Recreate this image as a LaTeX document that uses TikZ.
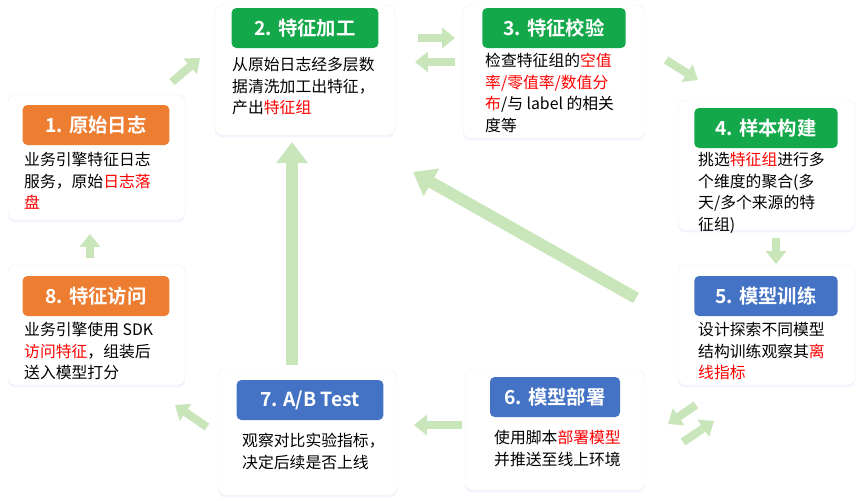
\documentclass[tikz,border=0pt]{standalone}
\usepackage{fontspec}
\setmainfont{Liberation Sans}
\newfontfamily\cjk{Noto Sans CJK SC}
\newfontfamily\cjkb{Noto Sans CJK SC Bold}
\usetikzlibrary{arrows.meta,shadows}
\definecolor{hdorange}{HTML}{ED7D31}
\definecolor{hdgreen}{HTML}{13A84A}
\definecolor{hdblue}{HTML}{4472C4}
\definecolor{flowgreen}{HTML}{C9E5BA}
\definecolor{hilite}{HTML}{FF0000}
\tikzset{
  x=0.03cm, y=-0.03cm,
  card/.style={draw=black!6,fill=white,rounded corners=6pt,
    drop shadow={shadow xshift=0pt,shadow yshift=-2pt,opacity=0.15,fill=blue!30}},
  header/.style={fill=#1,rounded corners=4pt,text=white,font=\cjkb\fontsize{16.5}{19}\selectfont,
    minimum height=1.2cm,inner sep=0pt},
  body/.style={anchor=north west,align=left,inner sep=0pt,
    font=\cjk\fontsize{13.5}{18.5}\selectfont},
  flow/.style={draw=flowgreen,line width=7pt,-{Triangle[length=11pt,width=17pt]}},
}
\newcommand{\hl}[1]{\textcolor{hilite}{#1}}
\begin{document}
\begin{tikzpicture}
  \useasboundingbox (0,0) rectangle (863,500);

  % cards
  \draw[card] (8,95) rectangle (185,220);
  \node[header=hdorange,minimum width=4.4cm] (h1) at (96,125) {1. 原始日志};
  \node[body] (b1) at (24,152) {业务引擎特征日志\\服务，原始\hl{日志落}\\\hl{盘}};

  \draw[card] (215,5) rectangle (395,135);
  \node[header=hdgreen,minimum width=4.4cm] (h2) at (305,28) {2. 特征加工};
  \node[body] (b2) at (232,57) {从原始日志经多层数\\据清洗加工出特征，\\产出\hl{特征组}};

  \draw[card] (463,5) rectangle (645,138);
  \node[header=hdgreen,minimum width=4.3cm] (h3) at (554,28) {3. 特征校验};
  \node[body] (b3) at (485,53) {检查特征组的\hl{空值}\\\hl{率/零值率/数值分}\\\hl{布}/与 label 的相关\\度等};

  \draw[card] (678,100) rectangle (855,230);
  \node[header=hdgreen,minimum width=4.3cm] (h4) at (766,128) {4. 样本构建};
  \node[body] (b4) at (698,152) {挑选\hl{特征组}进行多\\个维度的聚合(多\\天/多个来源的特\\征组)};

  \draw[card] (678,265) rectangle (855,385);
  \node[header=hdblue,minimum width=4.3cm] (h5) at (766,296) {5. 模型训练};
  \node[body] (b5) at (698,322) {设计探索不同模型\\结构训练观察其\hl{离}\\\hl{线指标}};

  \draw[card] (465,370) rectangle (645,490);
  \node[header=hdblue,minimum width=3.9cm] (h6) at (555,397) {6. 模型部署};
  \node[body] (b6) at (494,430) {使用脚本\hl{部署模型}\\并推送至线上环境};

  \draw[card] (218,370) rectangle (397,495);
  \node[header=hdblue,minimum width=4.4cm] (h7) at (310,400) {7. A/B Test};
  \node[body] (b7) at (242,433) {观察对比实验指标，\\决定后续是否上线};

  \draw[card] (8,265) rectangle (185,385);
  \node[header=hdorange,minimum width=4.4cm] (h8) at (96,296) {8. 特征访问};
  \node[body] (b8) at (24,322) {业务引擎使用 SDK\\\hl{访问特征}，组装后\\送入模型打分};

  % flow arrows
  \coordinate (a1s) at (172,82);  \coordinate (a1e) at (200,58);
  \coordinate (a2s) at (418,38);  \coordinate (a2e) at (455,38);
  \coordinate (a3s) at (455,62);  \coordinate (a3e) at (415,62);
  \coordinate (a4s) at (666,60);  \coordinate (a4e) at (698,80);
  \coordinate (a5s) at (776,238); \coordinate (a5e) at (776,264);
  \coordinate (a6s) at (696,405); \coordinate (a6e) at (668,424);
  \coordinate (a7s) at (683,442); \coordinate (a7e) at (714,421);
  \coordinate (a8s) at (462,425); \coordinate (a8e) at (414,425);
  \coordinate (a9s) at (207,427); \coordinate (a9e) at (175,405);
  \coordinate (a10s) at (90,258); \coordinate (a10e) at (90,234);
  \coordinate (up0) at (292,365); \coordinate (up1) at (292,142);
  \coordinate (dg0) at (636,298); \coordinate (dg1) at (413,172);
  \foreach \s/\e in {a1s/a1e,a2s/a2e,a3s/a3e,a4s/a4e,a5s/a5e,a6s/a6e,a7s/a7e,a8s/a8e,a9s/a9e,a10s/a10e}
    \draw[flow] (\s) -- (\e);
  \draw[flow,line width=10pt,-{Triangle[length=18pt,width=26pt]}] (up0) -- (up1);
  \draw[flow,line width=10pt,-{Triangle[length=18pt,width=26pt]}] (dg0) -- (dg1);
\end{tikzpicture}
\end{document}
